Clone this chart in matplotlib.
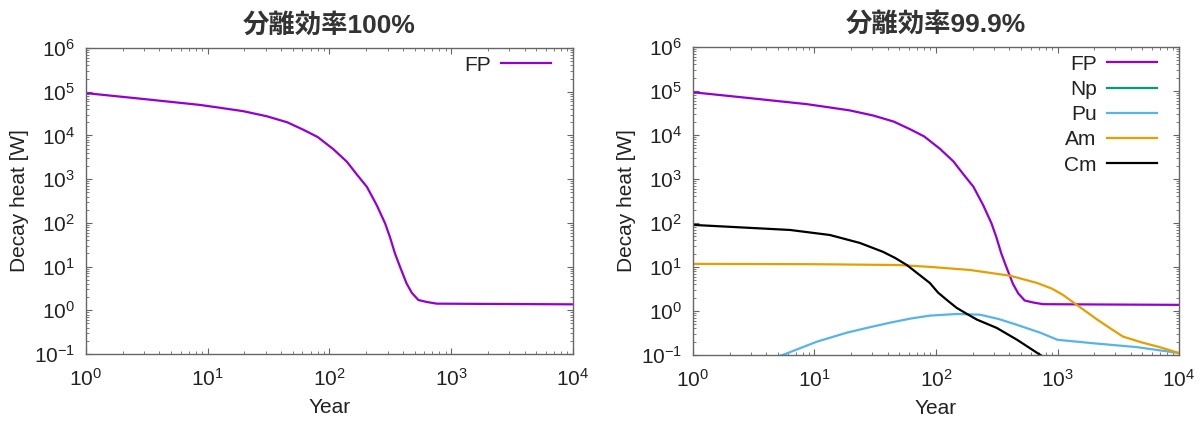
import matplotlib
matplotlib.use("Agg")
import matplotlib.pyplot as plt
from matplotlib.ticker import LogLocator, LogFormatterMathtext, NullFormatter

plt.rcParams['font.family'] = ['Liberation Sans', 'Noto Sans CJK JP', 'DejaVu Sans']
plt.rcParams['mathtext.default'] = 'regular'
plt.rcParams['axes.unicode_minus'] = False

# (year, decay heat in W)
fp_year = [1, 3, 8.6, 12.6, 19.5, 30.5, 45, 61, 80, 108, 139, 167, 203, 244, 286, 314,
           345, 380, 430, 475, 537, 630, 760, 2000, 10000]
fp_heat = [9.3e4, 6.8e4, 5.0e4, 4.3e4, 3.6e4, 2.75e4, 2.0e4, 1.35e4, 9.2e3, 4.8e3, 2.5e3,
           1.3e3, 665, 256, 98, 47, 20, 9.8, 4.1, 2.5, 1.72, 1.55, 1.42, 1.4, 1.37]

np_year = [1, 10, 100, 1000, 10000]
np_heat = [0.01, 0.01, 0.01, 0.012, 0.015]   # below the plotted range

pu_year = [4.5, 5.5, 10.5, 18.5, 28, 42, 62, 89, 148, 230, 330, 465, 720, 1000, 2130,
           4500, 10000]
pu_heat = [0.085, 0.1, 0.2, 0.32, 0.42, 0.54, 0.67, 0.78, 0.85, 0.82, 0.65, 0.48, 0.32,
           0.22, 0.18, 0.15, 0.11]

am_year = [1, 10, 50, 89, 190, 407, 680, 900, 1110, 1440, 2130, 2800, 3460, 5000, 6930,
           10000]
am_heat = [11.7, 11.5, 11, 10, 8.5, 6.3, 4.3, 3.2, 2.3, 1.37, 0.63, 0.38, 0.26, 0.19,
           0.15, 0.11]

cm_year = [1, 6.3, 13.4, 23.6, 36.6, 46, 57.6, 72, 89, 104, 125, 148, 180, 218, 316, 465,
           720, 800]
cm_heat = [90, 69, 53, 35, 22, 16, 11, 6.8, 4.3, 2.6, 1.7, 1.17, 0.85, 0.63, 0.41, 0.22,
           0.1, 0.085]

titles = ['分離効率100%', '分離効率99.9%']
col_fp, col_np, col_pu, col_am, col_cm = '#9400D3', '#009E73', '#56B4E9', '#E69F00', '#000000'


def style_axes(ax, title):
    ax.set_xscale('log')
    ax.set_yscale('log')
    ax.set_xlim(1, 1e4)
    ax.set_ylim(0.1, 1e6)
    ax.xaxis.set_major_locator(LogLocator(base=10, numticks=10))
    ax.yaxis.set_major_locator(LogLocator(base=10, numticks=10))
    ax.xaxis.set_minor_locator(LogLocator(base=10, subs=range(2, 10), numticks=20))
    ax.yaxis.set_minor_locator(LogLocator(base=10, subs=range(2, 10), numticks=20))
    ax.xaxis.set_major_formatter(LogFormatterMathtext())
    ax.yaxis.set_major_formatter(LogFormatterMathtext())
    ax.xaxis.set_minor_formatter(NullFormatter())
    ax.yaxis.set_minor_formatter(NullFormatter())
    ax.tick_params(which='both', direction='in', top=True, right=True, color='#666666')
    ax.tick_params(which='major', length=4, labelsize=15, labelcolor='#222222')
    ax.tick_params(axis='x', which='major', pad=10)
    ax.tick_params(axis='y', which='major', pad=8)
    ax.tick_params(which='minor', length=2)
    for s in ax.spines.values():
        s.set_color('#666666')
        s.set_linewidth(1.0)
    ax.set_xlabel('Year', fontsize=15, color='#222222', labelpad=6)
    ax.set_ylabel('Decay heat [W]', fontsize=15, color='#222222', labelpad=3)
    ax.set_title(title, fontsize=19, fontweight='bold', color='#333333', pad=11)


fig = plt.figure(figsize=(12.01, 4.25), dpi=100)
ax1 = fig.add_axes([0.0716, 0.167, 0.4055, 0.72])
ax2 = fig.add_axes([0.577, 0.165, 0.4047, 0.7247])

ax1.plot(fp_year, fp_heat, color=col_fp, lw=1.6, label='FP')
style_axes(ax1, titles[0])

ax2.plot(fp_year, fp_heat, color=col_fp, lw=1.6, label='FP')
ax2.plot(np_year, np_heat, color=col_np, lw=1.6, label='Np')
ax2.plot(pu_year, pu_heat, color=col_pu, lw=1.6, label='Pu')
ax2.plot(am_year, am_heat, color=col_am, lw=1.6, label='Am')
ax2.plot(cm_year, cm_heat, color=col_cm, lw=1.6, label='Cm')
style_axes(ax2, titles[1])

for ax in (ax1, ax2):
    ax.legend(loc='upper right', bbox_to_anchor=(0.955, 0.975), frameon=False,
              markerfirst=False, fontsize=15, handlelength=2.4, handletextpad=0.5,
              labelspacing=0.3, borderaxespad=0, borderpad=0, labelcolor='#222222')

fig.savefig('out.png', dpi=100)
